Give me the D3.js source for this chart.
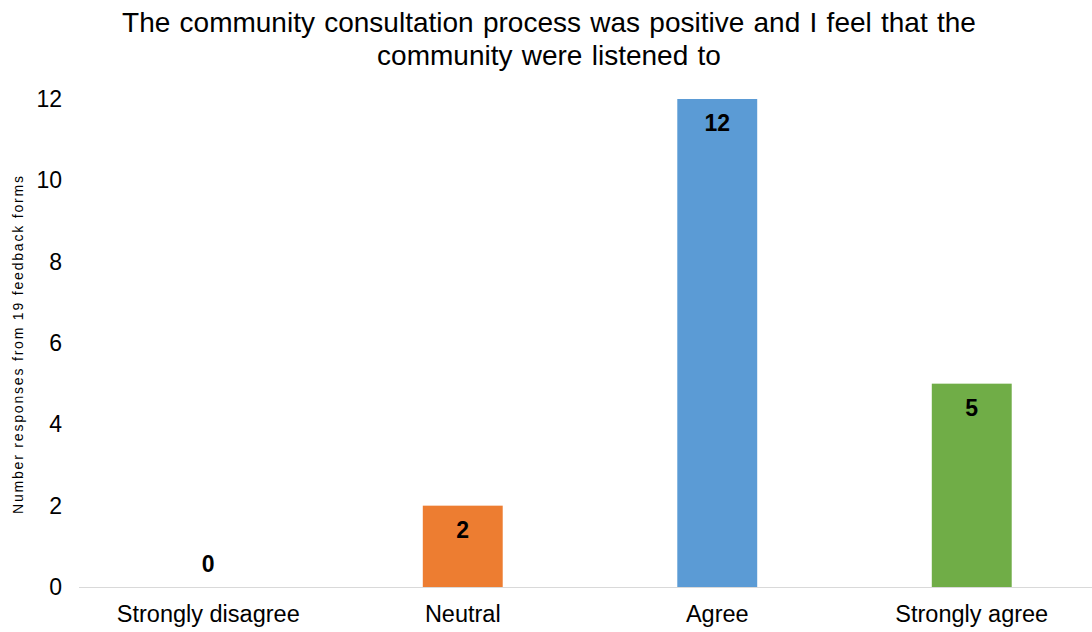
<!DOCTYPE html>
<html><head><meta charset="utf-8">
<script src="https://cdn.jsdelivr.net/npm/d3@7"></script>
<style>body{margin:0;background:#fff}svg{display:block}text{font-family:"Liberation Sans",Arial,sans-serif}</style>
</head><body>
<svg id="c" width="1092" height="632"></svg>
<script>
const categories = ["Strongly disagree", "Neutral", "Agree", "Strongly agree"];
const values = [0, 2, 12, 5];
const colors = ["#A5A5A5", "#ED7D31", "#5B9BD5", "#70AD47"];
const yTicks = [0, 2, 4, 6, 8, 10, 12];
const titleLines = ["The community consultation process was positive and I feel that the", "community were listened to"];
const yLabel = "Number responses from 19 feedback forms";

const svg = d3.select("#c");
const x = d3.scaleBand().domain(categories).range([81, 1099]).paddingInner(0.686).paddingOuter(0.343);
const y = d3.scaleLinear().domain([0, 12]).range([587, 99]);

svg.append("g").selectAll("text").data(titleLines).join("text")
  .attr("x", 549).attr("y", (d, i) => 32 + i * 33)
  .attr("text-anchor", "middle").attr("font-size", 28).attr("word-spacing", 1.5)
  .attr("fill", "#000").text(d => d);

const yAxis = svg.append("g").attr("transform", "translate(62,0)")
  .call(d3.axisLeft(y).tickValues(yTicks).tickSize(0).tickPadding(0));
yAxis.select(".domain").remove();
yAxis.selectAll("text").attr("font-size", 23).attr("fill", "#000").attr("font-family", "Liberation Sans, Arial, sans-serif");

svg.append("text").attr("transform", "translate(23,345) rotate(-90)")
  .attr("text-anchor", "middle").attr("font-size", 14)
  .attr("textLength", 338).attr("lengthAdjust", "spacing")
  .attr("fill", "#000").text(yLabel);

svg.append("g").selectAll("rect").data(values).join("rect")
  .attr("x", (d, i) => x(categories[i])).attr("width", x.bandwidth())
  .attr("y", d => y(d)).attr("height", d => y(0) - y(d))
  .attr("fill", (d, i) => colors[i]);

svg.append("line").attr("x1", 79).attr("x2", 1092).attr("y1", y(0) + 0.5).attr("y2", y(0) + 0.5)
  .attr("stroke", "#d9d9d9").attr("stroke-width", 1);

const xAxis = svg.append("g").attr("transform", `translate(0,${y(0)})`)
  .call(d3.axisBottom(x).tickSize(0).tickPadding(18));
xAxis.select(".domain").remove();
xAxis.selectAll("text").attr("font-size", 23.5).attr("fill", "#000").attr("font-family", "Liberation Sans, Arial, sans-serif");

svg.append("g").selectAll("text").data(values).join("text")
  .attr("x", (d, i) => x(categories[i]) + x.bandwidth() / 2)
  .attr("y", d => d > 0 ? y(d) + 32 : y(0) - 15)
  .attr("text-anchor", "middle").attr("font-size", 23).attr("font-weight", "bold").attr("fill", "#000")
  .text(d => d);
</script>
</body></html>
